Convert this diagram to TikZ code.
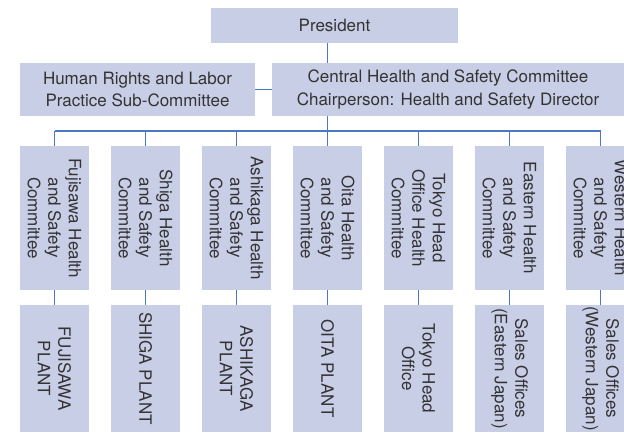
\documentclass[tikz,border=0pt]{standalone}
\usepackage{fontspec}
\setmainfont{TeX Gyre Heros}
\usepackage{tikz}
\usetikzlibrary{positioning, calc}

\definecolor{boxfill}{HTML}{C9CEE7}
\definecolor{linkblue}{HTML}{4A78C2}
\definecolor{textgray}{HTML}{333333}

\begin{document}
\begin{tikzpicture}
  [x=1pt,y=-1pt,
   every node/.style={fill=boxfill,text=textgray,inner sep=0pt,align=center},
   hbox/.style={font=\fontsize{17}{22.4}\selectfont},
   vbox/.style={rotate=-90,minimum height=69pt,font=\fontsize{17}{20.5}\selectfont},
   link/.style={draw=linkblue,line width=1.1pt}]
  \useasboundingbox (0,0) rectangle (624,432);
  \clip (0,0) rectangle (624,432);

  \node[hbox,minimum width=247pt,minimum height=34.7pt] (pres) at (334.5,25.3) {President};
  \node[hbox,minimum width=235pt,minimum height=52.7pt] (hr) at (137.5,89.3)
    {Human Rights and Labor\\Practice Sub-Committee};
  \node[hbox,minimum width=352pt,minimum height=52.7pt] (central) at (448,89.3)
    {Central Health and Safety Committee\\Chairperson: Health and Safety Director};
  \coordinate (bus) at (327.5,131);

  \foreach \i/\ctext/\ptext in {
      1/{Fujisawa Health\\and Safety\\Committee}/{FUJISAWA\\PLANT},
      2/{Shiga Health\\and Safety\\Committee}/{SHIGA PLANT},
      3/{Ashikaga Health\\and Safety\\Committee}/{ASHIKAGA\\PLANT},
      4/{Oita Health\\and Safety\\Committee}/{OITA PLANT},
      5/{Tokyo Head\\Office Health\\Committee}/{Tokyo Head\\Office},
      6/{Eastern Health\\and Safety\\Committee}/{Sales Offices\\(Eastern Japan)},
      7/{Western Health\\and Safety\\Committee}/{Sales Offices\\(Western Japan)}}
  {
    \node[vbox,minimum width=144pt] (c\i) at ({54.5+91*(\i-1)},218) {\ctext};
    \node[vbox,minimum width=127pt] (p\i) at ({54.5+91*(\i-1)},368.5) {\ptext};
  }

  \draw[link] (pres.south -| bus) -- (central.north -| bus);
  \draw[link] (central.south -| bus) -- (bus);
  \draw[link] (hr.east) -- (central.west);
  \draw[link] (c1.west |- bus) -- (c7.west |- bus);
  \foreach \i in {1,...,7} {
    \draw[link] (c\i.west) -- (c\i.west |- bus);
    \draw[link] (c\i.east) -- (p\i.west);
  }

\end{tikzpicture}
\end{document}
